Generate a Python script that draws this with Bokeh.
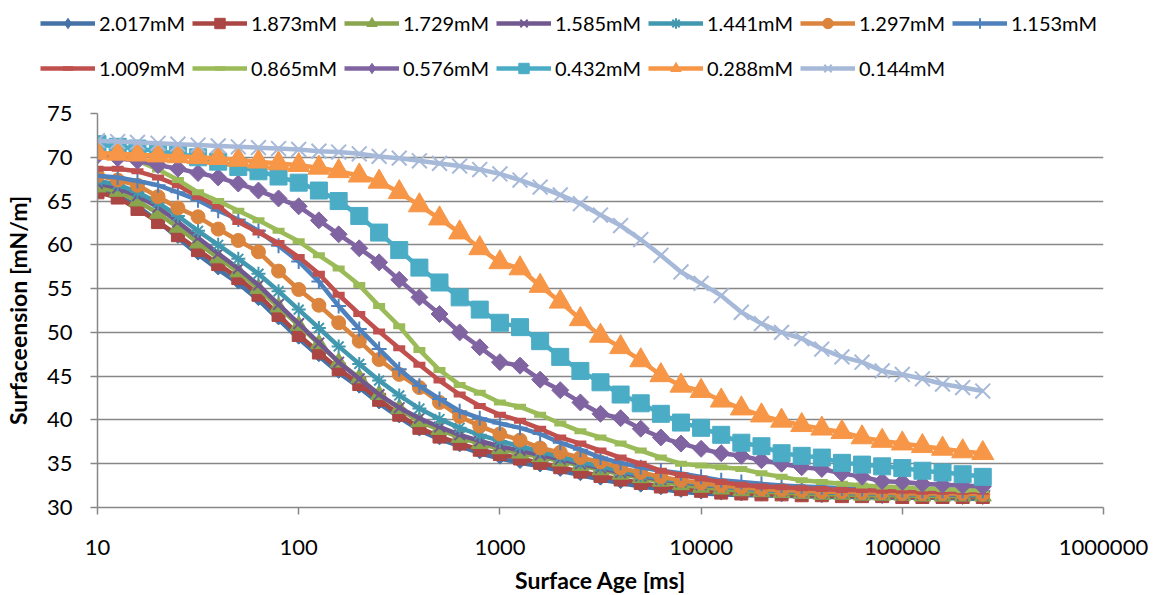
import math
import numpy as np
from bokeh.plotting import figure
from bokeh.layouts import column
from bokeh.models import FixedTicker, PrintfTickFormatter, Legend, LegendItem, Range1d, Plot
from bokeh.embed import file_html
from bokeh.resources import INLINE

# ---------------- data ----------------
surface_age_ms = [10, 12.6, 15.8, 20, 25.1, 31.6, 39.8, 50.1, 63.1, 79.4,
                  100, 126, 158, 200, 251, 316, 398, 501, 631, 794,
                  1000, 1259, 1585, 1995, 2512, 3162, 3981, 5012, 6310, 7943,
                  10000, 12589, 15849, 19953, 25119, 31623, 39811, 50119, 63096, 79433,
                  100000, 125893, 158489, 199526, 251189]

c2017 = [66.3, 65.6, 64.4, 62.7, 60.8, 58.9, 57.2, 55.6, 53.7, 51.5,
         49.3, 47.3, 45.4, 43.7, 41.9, 40.3, 38.8, 37.8, 37.0, 36.2,
         35.6, 35.1, 34.7, 34.2, 33.7, 33.2, 32.8, 32.4, 32.1, 31.8,
         31.6, 31.5, 31.4, 31.4, 31.3, 31.3, 31.2, 31.2, 31.2, 31.1,
         31.1, 31.1, 31.1, 31.0, 31.0]
c1873 = [66.0, 65.4, 64.1, 62.6, 61.1, 59.4, 57.8, 56.2, 54.3, 52.0,
         49.7, 47.7, 45.8, 44.1, 42.3, 40.6, 39.1, 38.1, 37.3, 36.6,
         36.1, 35.6, 35.1, 34.6, 34.1, 33.6, 33.2, 32.8, 32.4, 32.1,
         31.9, 31.7, 31.6, 31.5, 31.5, 31.4, 31.4, 31.3, 31.3, 31.3,
         31.2, 31.2, 31.2, 31.2, 31.2]
c1729 = [66.6, 66.1, 65.0, 63.6, 62.0, 60.2, 58.5, 56.9, 55.0, 52.9,
         50.8, 48.7, 46.6, 44.8, 42.9, 41.3, 39.8, 38.9, 38.0, 37.3,
         36.7, 36.2, 35.8, 35.3, 34.8, 34.3, 33.8, 33.4, 33.0, 32.6,
         32.3, 32.1, 31.9, 31.8, 31.7, 31.6, 31.5, 31.5, 31.4, 31.4,
         31.4, 31.3, 31.3, 31.3, 31.3]
c1585 = [67.0, 66.5, 65.6, 64.3, 62.6, 60.8, 59.0, 57.3, 55.4, 53.2,
         51.0, 48.8, 46.6, 44.7, 42.9, 41.4, 40.2, 39.2, 38.3, 37.6,
         37.0, 36.5, 36.0, 35.5, 35.0, 34.5, 34.0, 33.6, 33.2, 32.9,
         32.6, 32.4, 32.2, 32.0, 31.9, 31.8, 31.7, 31.7, 31.6, 31.6,
         31.5, 31.5, 31.5, 31.4, 31.4]
c1441 = [67.3, 66.9, 66.0, 64.8, 63.3, 61.6, 60.0, 58.4, 56.7, 54.7,
         52.6, 50.5, 48.4, 46.4, 44.5, 42.8, 41.3, 40.1, 39.1, 38.3,
         37.6, 37.0, 36.4, 35.8, 35.2, 34.7, 34.2, 33.7, 33.3, 33.0,
         32.7, 32.4, 32.2, 32.0, 31.9, 31.8, 31.7, 31.7, 31.6, 31.6,
         31.5, 31.5, 31.5, 31.5, 31.4]
c1297 = [67.9, 67.4, 66.8, 65.5, 64.2, 63.2, 61.8, 60.5, 59.2, 57.0,
         54.9, 53.1, 51.1, 49.0, 46.9, 45.2, 43.7, 42.0, 40.4, 39.3,
         38.4, 37.7, 36.8, 36.3, 35.7, 35.2, 34.5, 34.0, 33.5, 33.1,
         32.8, 32.5, 32.3, 32.1, 32.0, 31.9, 31.8, 31.8, 31.7, 31.7,
         31.6, 31.6, 31.6, 31.6, 31.5]
c1153 = [67.9, 67.7, 67.3, 66.8, 66.0, 65.1, 63.9, 62.9, 61.6, 59.9,
         58.1, 55.8, 53.0, 50.4, 48.1, 45.8, 43.9, 42.4, 41.0, 40.2,
         39.6, 39.1, 38.4, 37.4, 36.6, 35.7, 35.1, 34.6, 34.2, 33.9,
         33.5, 33.1, 32.9, 32.7, 32.5, 32.4, 32.3, 32.2, 32.1, 32.0,
         32.0, 31.9, 31.9, 31.9, 31.9]
c1009 = [68.7, 68.7, 68.4, 67.7, 66.8, 65.5, 64.4, 62.6, 61.4, 60.2,
         58.6, 56.7, 54.3, 52.1, 50.1, 48.2, 46.3, 44.5, 42.9, 41.6,
         40.6, 39.9, 39.0, 38.0, 37.3, 36.5, 35.7, 35.0, 34.2, 33.7,
         33.3, 32.9, 32.6, 32.4, 32.3, 32.2, 32.1, 32.0, 32.0, 31.9,
         31.9, 31.8, 31.8, 31.8, 31.8]
c0865 = [70.6, 70.2, 69.6, 68.6, 67.4, 66.0, 65.0, 63.9, 62.8, 61.6,
         60.4, 58.8, 57.3, 55.4, 53.0, 50.7, 48.0, 45.7, 44.0, 43.1,
         42.0, 41.5, 40.6, 39.6, 38.7, 38.0, 37.3, 36.5, 35.7, 35.0,
         34.8, 34.6, 34.4, 33.9, 33.5, 33.1, 32.9, 32.7, 32.5, 32.4,
         32.3, 32.2, 32.1, 32.0, 32.0]
c0576 = [70.2, 69.9, 69.6, 69.1, 68.7, 68.2, 67.7, 67.0, 66.2, 65.3,
         64.4, 62.8, 61.2, 59.6, 58.0, 56.0, 54.0, 52.1, 50.0, 48.3,
         46.6, 46.2, 44.6, 43.4, 42.0, 40.7, 40.2, 39.0, 38.0, 37.3,
         36.7, 36.2, 35.9, 35.4, 35.0, 34.6, 34.4, 33.9, 33.5, 33.0,
         32.9, 32.7, 32.6, 32.5, 32.4]
c0432 = [71.5, 71.2, 71.0, 70.7, 70.4, 70.0, 69.5, 68.9, 68.4, 67.8,
         67.1, 66.2, 65.0, 63.3, 61.4, 59.4, 57.4, 55.7, 54.0, 52.6,
         51.1, 50.6, 49.0, 47.2, 45.6, 44.3, 42.9, 41.9, 40.7, 39.7,
         39.1, 38.3, 37.4, 37.0, 36.2, 35.9, 35.7, 35.1, 34.9, 34.7,
         34.5, 34.2, 34.0, 33.8, 33.5]
c0288 = [70.5, 70.4, 70.3, 70.2, 70.1, 70.0, 69.9, 69.7, 69.5, 69.3,
         69.1, 68.8, 68.4, 67.9, 67.2, 66.0, 64.5, 63.0, 61.4, 59.6,
         58.0, 57.3, 55.3, 53.5, 51.5, 49.6, 48.3, 46.8, 45.1, 43.9,
         43.3, 42.2, 41.3, 40.5, 39.9, 39.4, 39.0, 38.6, 38.0, 37.6,
         37.3, 37.0, 36.7, 36.4, 36.2]
c0144 = [71.9, 71.8, 71.7, 71.6, 71.5, 71.4, 71.3, 71.2, 71.1, 71.0,
         70.9, 70.7, 70.6, 70.4, 70.1, 69.9, 69.6, 69.3, 69.0, 68.6,
         68.1, 67.4, 66.6, 65.7, 64.7, 63.4, 62.2, 60.6, 58.8, 56.9,
         55.6, 54.2, 52.3, 51.0, 50.0, 49.3, 48.1, 47.2, 46.6, 45.6,
         45.2, 44.7, 44.1, 43.7, 43.3]

series_labels = ["2.017mM", "1.873mM", "1.729mM", "1.585mM", "1.441mM", "1.297mM", "1.153mM",
                 "1.009mM", "0.865mM", "0.576mM", "0.432mM", "0.288mM", "0.144mM"]
series_values = [c2017, c1873, c1729, c1585, c1441, c1297, c1153,
                 c1009, c0865, c0576, c0432, c0288, c0144]

x_ticks = [10, 100, 1000, 10000, 100000, 1000000]
y_ticks = [30, 35, 40, 45, 50, 55, 60, 65, 70, 75]

# ---------------- styles ----------------
D45 = math.pi / 4
styles = [
    dict(color="#4572A7", marker="square", size=8, angle=D45, mlw=1, key="diamond", klw=1),
    dict(color="#AA4643", marker="square", size=13, angle=0, mlw=1, key="square", klw=1),
    dict(color="#89A54E", marker="triangle", size=17, angle=0, mlw=1, key="triangle", klw=1),
    dict(color="#71588F", marker="x", size=15, angle=0, mlw=2, key="x", klw=2),
    dict(color="#4198AF", marker="asterisk", size=14, angle=0, mlw=2, key="asterisk", klw=2),
    dict(color="#DB843D", marker="circle", size=14, angle=0, mlw=1, key="circle", klw=1),
    dict(color="#4F81BD", marker="cross", size=15, angle=0, mlw=2, key="cross", klw=2),
    dict(color="#C0504D", marker="dash", size=12, angle=0, mlw=6, key="dash", klw=4.5),
    dict(color="#9BBB59", marker="dash", size=12, angle=0, mlw=6, key="dash", klw=4.5),
    dict(color="#8064A2", marker="square", size=12, angle=D45, mlw=1, key="diamond", klw=1),
    dict(color="#4BACC6", marker="square", size=17, angle=0, mlw=1, key="square", klw=1),
    dict(color="#F79646", marker="triangle", size=22, angle=0, mlw=1, key="triangle", klw=1),
    dict(color="#A7B9D9", marker="x", size=21, angle=0, mlw=2, key="x", klw=2),
]

FONT = "Lato"
GRAY = "#878787"
W = 1150

# ---------------- main chart ----------------
p = figure(frame_width=1006, frame_height=394,
           x_axis_type="log", x_range=Range1d(10, 1000000), y_range=Range1d(30, 75),
           output_backend="svg", toolbar_location=None,
           min_border_left=97, min_border_right=W - 97 - 1006, min_border_top=15, min_border_bottom=87)
p.outline_line_color = None

# ---------------- legend strip ----------------
lg = figure(width=W, height=98, x_range=Range1d(0, 1), y_range=Range1d(0, 1),
            output_backend="svg", toolbar_location=None,
            x_axis_location=None, y_axis_location=None,
            min_border_left=0, min_border_right=0, min_border_top=0, min_border_bottom=0)
lg.outline_line_color = None
lg.xgrid.visible = False
lg.ygrid.visible = False

nan = np.array([np.nan])
items = []
for lab, vals, st in zip(series_labels, series_values, styles):
    p.line(surface_age_ms, vals, line_color=st["color"], line_width=4.5)
    p.scatter(surface_age_ms, vals, marker=st["marker"], size=st["size"], angle=st["angle"],
              fill_color=st["color"], line_color=st["color"], line_width=st["mlw"])
    # legend keys (no data points, only used for the legend swatches)
    kl = lg.line(nan, nan, line_color=st["color"], line_width=4.5)
    ks = lg.scatter(nan, nan, marker=st["key"], size=10, fill_color=st["color"],
                    line_color=st["color"], line_width=st["klw"])
    items.append(LegendItem(label=lab, renderers=[kl, ks]))

legend = Legend(items=items, orientation="horizontal", nrows=2,
                location=(40, 11), padding=0, spacing=7, margin=0,
                glyph_width=55, glyph_height=26, label_standoff=4,
                label_width=86, label_height=38,
                label_text_font=FONT, label_text_font_size="20px", label_text_color="black",
                background_fill_alpha=0, border_line_alpha=0)
lg.add_layout(legend)

# ---------------- axes ----------------
xa = p.xaxis[0]
xa.ticker = FixedTicker(ticks=x_ticks)
xa.formatter = PrintfTickFormatter(format="%d")
xa.axis_label = "Surface Age [ms]"
ya = p.yaxis[0]
ya.ticker = FixedTicker(ticks=y_ticks)
ya.axis_label = "Surfaceension [mN/m]"

for ax in (xa, ya):
    ax.axis_line_color = GRAY
    ax.axis_line_width = 1.5
    ax.major_tick_line_color = GRAY
    ax.major_tick_line_width = 1.5
    ax.major_tick_in = 0
    ax.major_tick_out = 7
    ax.minor_tick_in = 0
    ax.minor_tick_out = 0
    ax.major_label_text_font = FONT
    ax.major_label_text_font_size = "22px"
    ax.major_label_text_color = "black"
    ax.axis_label_text_font = FONT
    ax.axis_label_text_font_size = "23px"
    ax.axis_label_text_font_style = "bold"
    ax.axis_label_text_color = "black"

xa.major_label_standoff = 25
xa.axis_label_standoff = 8
ya.major_label_standoff = 18
ya.axis_label_standoff = 12

p.xgrid.visible = False
p.ygrid.grid_line_color = GRAY
p.ygrid.grid_line_width = 1.5

if "frame_align" in Plot.properties():
    lg.frame_align = False
    p.frame_align = False
    page = column(lg, p, spacing=0)
else:
    page = [lg, p]

open("out.html", "w").write(file_html(page, INLINE))
